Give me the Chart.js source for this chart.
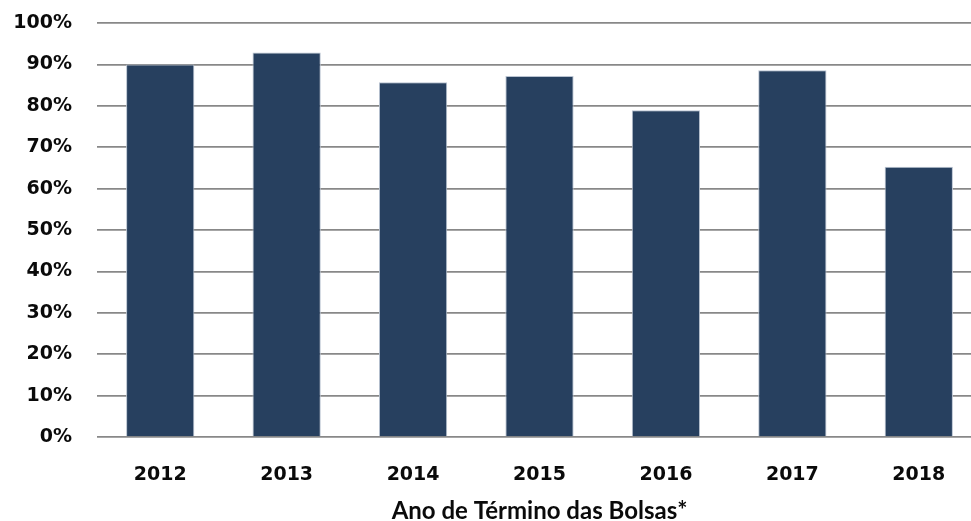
<!DOCTYPE html>
<html>
<head>
<meta charset="utf-8">
<script src="https://cdn.jsdelivr.net/npm/chart.js@4/dist/chart.umd.min.js"></script>
<style>
  html, body { margin: 0; padding: 0; background: #fff; overflow: hidden; }
  #wrap { position: relative; width: 990px; height: 521px; }
</style>
</head>
<body>
<div id="wrap"><canvas id="chart"></canvas></div>
<script>
// values
const years = ['2012', '2013', '2014', '2015', '2016', '2017', '2018'];
const shares = [90.0, 92.9, 85.7, 87.2, 78.9, 88.6, 65.3];
const yTicks = [0, 10, 20, 30, 40, 50, 60, 70, 80, 90, 100];
const xTitle = 'Ano de Término das Bolsas*';

const ctx = document.getElementById('chart').getContext('2d');

new Chart(ctx, {
  type: 'bar',
  data: {
    labels: years,
    datasets: [{
      data: shares,
      backgroundColor: '#27405f',
      borderColor: '#b9c3d1',
      borderWidth: 1,
      barPercentage: 0.54,
      categoryPercentage: 1
    }]
  },
  options: {
    responsive: true,
    maintainAspectRatio: false,
    animation: false,
    layout: { padding: { top: 23, right: 8, left: 0, bottom: 0 } },
    plugins: {
      legend: { display: false },
      tooltip: { enabled: false }
    },
    scales: {
      x: {
        grid: { display: false },
        border: { display: false },
        ticks: {
          color: '#0a0a0a',
          padding: 19,
          font: { family: 'DejaVu Sans', weight: 'bold', size: 19 }
        },
        title: {
          display: true,
          text: xTitle,
          color: '#0a0a0a',
          padding: { top: 0, bottom: 0 },
          font: { family: 'Lato', weight: 'bold', size: 24, lineHeight: 0.8 }
        },
        afterFit: (scale) => { scale.height = 84; }
      },
      y: {
        min: 0,
        max: 100,
        afterBuildTicks: (scale) => { scale.ticks = yTicks.map(v => ({ value: v })); },
        grid: {
          color: '#888888',
          lineWidth: 1.7,
          drawTicks: true,
          tickLength: 23,
          tickColor: 'rgba(0,0,0,0)'
        },
        border: { display: false },
        ticks: {
          color: '#0a0a0a',
          padding: 2,
          callback: (v) => v + '%',
          font: { family: 'DejaVu Sans', weight: 'bold', size: 19 }
        },
        afterFit: (scale) => { scale.width = 97; }
      }
    }
  }
});
</script>
</body>
</html>
